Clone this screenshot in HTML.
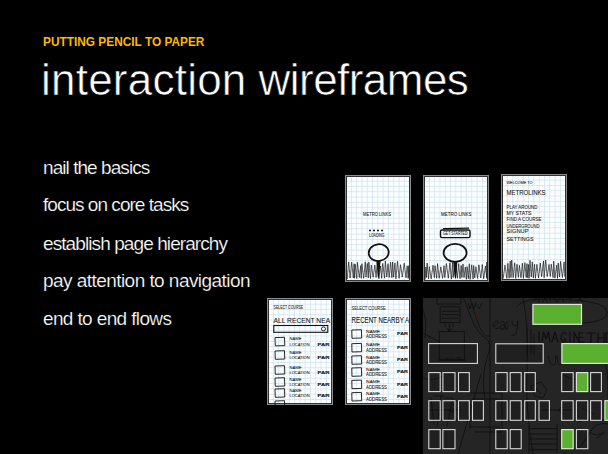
<!DOCTYPE html>
<html><head><meta charset="utf-8">
<style>
html,body{margin:0;padding:0;background:#000;}
body{width:608px;height:454px;position:relative;overflow:hidden;font-family:"Liberation Sans",sans-serif;}
.t{position:absolute;white-space:nowrap;line-height:1;}
#sub{left:42.5px;top:35px;font-size:13px;font-weight:bold;color:#fdb900;transform:scaleX(0.912);transform-origin:0 0;}
#title{left:41px;top:58px;font-size:44px;color:#fff;letter-spacing:-0.17px;-webkit-text-stroke:0.6px #000;}
.b{left:43px;font-size:19px;color:#fff;-webkit-text-stroke:0.2px #000;}
.card{position:absolute;}
#panel{position:absolute;left:423px;top:298px;width:185px;height:156px;background:#2b2b2b;}
</style></head><body>
<div class="t" id="sub">PUTTING PENCIL TO PAPER</div>
<div class="t" id="title"><span style="letter-spacing:0.23px">interaction</span> <span style="letter-spacing:-0.55px">wireframes</span></div>
<div class="t b" style="top:158px;letter-spacing:-0.94px">nail the basics</div>
<div class="t b" style="top:195px;letter-spacing:-0.97px">focus on core tasks</div>
<div class="t b" style="top:234px;letter-spacing:-0.91px">establish page hierarchy</div>
<div class="t b" style="top:271px;letter-spacing:-0.55px">pay attention to navigation</div>
<div class="t b" style="top:309px;letter-spacing:-0.63px">end to end flows</div>
<svg width="0" height="0" style="position:absolute"><defs>
<pattern id="grid" width="5.3" height="5.3" patternUnits="userSpaceOnUse" x="0.6" y="0.4">
<rect width="5.3" height="5.3" fill="#fbfdfe"/>
<path d="M0 0.4H5.3M0.4 0V5.3" stroke="#c4deea" stroke-width="0.6" fill="none"/>
</pattern></defs></svg>
<svg class="card" style="left:345px;top:175px" width="66" height="107" viewBox="0 0 66 107"><rect x="0" y="0" width="66" height="107" fill="#8a8a8a"/><rect x="1" y="1" width="64" height="105" fill="#333"/><rect x="2" y="2" width="62" height="103" fill="url(#grid)"/><text x="18" y="41.20" font-family="Liberation Sans" font-size="5.83" font-weight="normal" fill="#161616" stroke="#161616" stroke-width="0.07" textLength="28" lengthAdjust="spacingAndGlyphs">METRO LINKS</text><path d="M24 55.5h2M28 55.5h2M32 55.5h2M36 55.5h2" stroke="#1a1a1a" stroke-width="1.6"/><text x="24" y="62.30" font-family="Liberation Sans" font-size="4.58" font-weight="normal" fill="#161616" stroke="#161616" stroke-width="0.06" textLength="15.5" lengthAdjust="spacingAndGlyphs">LOADING</text><ellipse cx="33.7" cy="77.6" rx="10" ry="8.4" fill="none" stroke="#111" stroke-width="1.8" transform="rotate(-8 33.7 77.6)"/><path d="M2.2 104.0L3.7 86.9L5.1 103.0L6.7 87.2L8.3 103.0L9.1 88.7L9.6 103.3L10.2 89.2L11.8 103.5L12.4 87.3L14.3 102.5L15.7 90.7L16.2 103.3L16.9 88.7L18.7 103.3L20.3 86.8L21.0 102.1L22.3 88.4L23.3 103.0L23.8 87.0L25.5 103.5L26.3 90.2L28.2 102.2L29.8 90.1L31.1 102.5L32.2 86.7L33.9 103.6L35.6 91.0L36.7 103.3L37.7 88.4L39.6 103.2L40.3 86.1L41.8 102.0L43.0 88.7L44.2 102.5L45.6 87.2L46.9 102.8L47.6 87.0L48.6 102.1L49.9 87.9L50.9 103.8L52.5 86.4L54.1 103.3L55.5 89.7L57.3 102.1L59.2 88.2L61.0 102.8L62.2 90.8L63.2 103.5L63.8 90.7L63.8 102.4" fill="none" stroke="#1a1a1a" stroke-width="0.7" stroke-linejoin="round"/><path d="M31.6 85.5 L35.6 85.5 L34.3 100 L33.2 104 L32.6 100 Z" fill="#111"/></svg>
<svg class="card" style="left:423px;top:175px" width="66" height="107" viewBox="0 0 66 107"><rect x="0" y="0" width="66" height="107" fill="#8a8a8a"/><rect x="1" y="1" width="64" height="105" fill="#333"/><rect x="2" y="2" width="62" height="103" fill="url(#grid)"/><text x="18" y="40.60" font-family="Liberation Sans" font-size="5.28" font-weight="normal" fill="#161616" stroke="#161616" stroke-width="0.07" textLength="30.5" lengthAdjust="spacingAndGlyphs">METRO LINKS</text><rect x="17.5" y="55" width="29.5" height="7.6" rx="1.5" fill="none" stroke="#111" stroke-width="1.4"/><path d="M20 53.6 L46 53.2" stroke="#111" stroke-width="1.2"/><text x="20" y="60.30" font-family="Liberation Sans" font-size="4.58" font-weight="normal" fill="#161616" stroke="#161616" stroke-width="0.06" textLength="24.5" lengthAdjust="spacingAndGlyphs">GET STARTED</text><ellipse cx="32.1" cy="77.9" rx="11.5" ry="9" fill="none" stroke="#111" stroke-width="1.8"/><path d="M2.2 104.5L2.9 92.0L3.4 102.5L4.1 88.0L5.5 103.8L6.3 91.7L8.2 103.9L10.0 90.2L11.4 102.7L12.0 90.7L13.7 103.3L14.5 88.6L16.2 103.3L17.8 91.9L19.6 103.4L21.0 90.7L21.8 102.6L23.4 88.6L25.3 103.2L26.9 87.7L28.4 104.1L29.6 87.3L30.2 102.6L31.4 89.7L32.5 103.2L33.4 91.8L34.4 103.3L35.7 88.6L37.0 103.6L38.2 90.5L38.9 102.5L40.0 88.9L41.0 102.6L42.3 92.0L43.3 104.3L44.1 91.7L45.3 103.8L46.3 88.7L47.1 104.4L48.7 89.8L50.1 104.1L50.7 90.6L51.8 102.8L52.9 91.8L54.6 103.5L55.9 89.8L57.8 103.0L59.3 89.5L60.7 103.8L62.4 91.1L63.7 102.6L63.8 87.1L63.8 103.8" fill="none" stroke="#1a1a1a" stroke-width="0.7" stroke-linejoin="round"/><path d="M30.2 86.5 L34.4 86.5 L33.2 101 L32.3 104 L31.6 101 Z" fill="#111"/></svg>
<svg class="card" style="left:501px;top:174px" width="66" height="107" viewBox="0 0 66 107"><rect x="0" y="0" width="66" height="107" fill="#8a8a8a"/><rect x="1" y="1" width="64" height="105" fill="#333"/><rect x="2" y="2" width="62" height="103" fill="url(#grid)"/><text x="5.5" y="10.30" font-family="Liberation Sans" font-size="3.89" font-weight="normal" fill="#161616" stroke="#161616" stroke-width="0.06" textLength="26" lengthAdjust="spacingAndGlyphs">WELCOME TO</text><text x="5.5" y="20.50" font-family="Liberation Sans" font-size="7.64" font-weight="normal" fill="#161616" stroke="#161616" stroke-width="0.09" textLength="39" lengthAdjust="spacingAndGlyphs">METROLINKS</text><text x="5.5" y="34.60" font-family="Liberation Sans" font-size="5.00" font-weight="normal" fill="#161616" stroke="#161616" stroke-width="0.07" textLength="31" lengthAdjust="spacingAndGlyphs">PLAY AROUND</text><text x="5.5" y="40.60" font-family="Liberation Sans" font-size="5.00" font-weight="normal" fill="#161616" stroke="#161616" stroke-width="0.07" textLength="25" lengthAdjust="spacingAndGlyphs">MY STATS</text><text x="5.5" y="46.60" font-family="Liberation Sans" font-size="5.00" font-weight="normal" fill="#161616" stroke="#161616" stroke-width="0.07" textLength="35" lengthAdjust="spacingAndGlyphs">FIND A COURSE</text><text x="5.5" y="53.60" font-family="Liberation Sans" font-size="5.00" font-weight="normal" fill="#161616" stroke="#161616" stroke-width="0.07" textLength="33" lengthAdjust="spacingAndGlyphs">UNDERGROUND</text><text x="5.5" y="59.10" font-family="Liberation Sans" font-size="5.00" font-weight="normal" fill="#161616" stroke="#161616" stroke-width="0.07" textLength="22" lengthAdjust="spacingAndGlyphs">SIGNUP</text><text x="5.5" y="66.60" font-family="Liberation Sans" font-size="5.00" font-weight="normal" fill="#161616" stroke="#161616" stroke-width="0.07" textLength="27" lengthAdjust="spacingAndGlyphs">SETTINGS</text><path d="M2.2 104.5L4.0 91.1L5.8 104.3L6.9 89.3L8.1 104.2L9.2 87.1L10.0 103.6L10.7 86.1L12.2 103.7L13.7 88.8L14.7 104.4L16.0 90.3L17.4 103.3L18.4 91.4L20.0 103.8L21.4 89.2L22.4 104.3L23.9 88.6L25.2 103.6L26.0 89.6L26.7 103.9L27.5 90.5L28.1 104.3L29.0 86.2L30.3 102.9L31.3 87.8L32.3 103.9L33.5 90.3L34.4 104.3L35.9 90.4L37.5 104.0L39.3 89.0L40.6 102.6L42.5 86.9L43.1 103.7L44.7 86.1L46.2 102.6L48.0 90.5L49.3 102.5L50.3 90.2L52.1 103.7L52.7 87.1L53.9 104.1L55.7 91.2L56.5 104.3L57.2 88.9L58.5 102.9L59.6 87.4L61.4 103.6L63.1 87.9L63.8 102.7" fill="none" stroke="#1a1a1a" stroke-width="0.7" stroke-linejoin="round"/></svg>
<svg class="card" style="left:267px;top:298px" width="66" height="107" viewBox="0 0 66 107"><rect x="0" y="0" width="66" height="107" fill="#8a8a8a"/><rect x="1" y="1" width="64" height="105" fill="#333"/><rect x="2" y="2" width="62" height="103" fill="url(#grid)"/><text x="6.6" y="11.30" font-family="Liberation Sans" font-size="4.58" font-weight="normal" fill="#161616" stroke="#161616" stroke-width="0.06" textLength="29.5" lengthAdjust="spacingAndGlyphs">SELECT COURSE</text><text x="6.6" y="24.80" font-family="Liberation Sans" font-size="8.06" font-weight="normal" fill="#161616" stroke="#161616" stroke-width="0.09" textLength="56.5" lengthAdjust="spacingAndGlyphs">ALL RECENT NEA</text><rect x="6.8" y="27.5" width="54" height="6.8" fill="none" stroke="#111" stroke-width="1.1"/><circle cx="56.5" cy="30.9" r="2" fill="none" stroke="#111" stroke-width="0.9"/><path d="M8 39.6 L17.5 39.3 L17.8 47.6 L8.3 47.9 Z" fill="none" stroke="#111" stroke-width="0.9"/><text x="22.5" y="42.30" font-family="Liberation Sans" font-size="4.17" font-weight="normal" fill="#161616" stroke="#161616" stroke-width="0.06" textLength="12" lengthAdjust="spacingAndGlyphs">NAME</text><text x="22.5" y="47.80" font-family="Liberation Sans" font-size="4.17" font-weight="normal" fill="#161616" stroke="#161616" stroke-width="0.06" textLength="20" lengthAdjust="spacingAndGlyphs">LOCATION</text><text x="50.5" y="47.60" font-family="Liberation Sans" font-size="3.61" font-weight="bold" fill="#161616" stroke="#161616" stroke-width="0.12" textLength="12" lengthAdjust="spacingAndGlyphs">PAR</text><path d="M8 53.0 L17.5 52.7 L17.8 61.0 L8.3 61.3 Z" fill="none" stroke="#111" stroke-width="0.9"/><text x="22.5" y="55.70" font-family="Liberation Sans" font-size="4.17" font-weight="normal" fill="#161616" stroke="#161616" stroke-width="0.06" textLength="12" lengthAdjust="spacingAndGlyphs">NAME</text><text x="22.5" y="61.20" font-family="Liberation Sans" font-size="4.17" font-weight="normal" fill="#161616" stroke="#161616" stroke-width="0.06" textLength="20" lengthAdjust="spacingAndGlyphs">LOCATION</text><text x="50.5" y="61.00" font-family="Liberation Sans" font-size="3.61" font-weight="bold" fill="#161616" stroke="#161616" stroke-width="0.12" textLength="12" lengthAdjust="spacingAndGlyphs">PAR</text><path d="M8 68.0 L17.5 67.7 L17.8 76.0 L8.3 76.3 Z" fill="none" stroke="#111" stroke-width="0.9"/><text x="22.5" y="70.70" font-family="Liberation Sans" font-size="4.17" font-weight="normal" fill="#161616" stroke="#161616" stroke-width="0.06" textLength="12" lengthAdjust="spacingAndGlyphs">NAME</text><text x="22.5" y="76.20" font-family="Liberation Sans" font-size="4.17" font-weight="normal" fill="#161616" stroke="#161616" stroke-width="0.06" textLength="20" lengthAdjust="spacingAndGlyphs">LOCATION</text><text x="50.5" y="76.00" font-family="Liberation Sans" font-size="3.61" font-weight="bold" fill="#161616" stroke="#161616" stroke-width="0.12" textLength="12" lengthAdjust="spacingAndGlyphs">PAR</text><path d="M8 80.0 L17.5 79.7 L17.8 88.0 L8.3 88.3 Z" fill="none" stroke="#111" stroke-width="0.9"/><text x="22.5" y="82.70" font-family="Liberation Sans" font-size="4.17" font-weight="normal" fill="#161616" stroke="#161616" stroke-width="0.06" textLength="12" lengthAdjust="spacingAndGlyphs">NAME</text><text x="22.5" y="88.20" font-family="Liberation Sans" font-size="4.17" font-weight="normal" fill="#161616" stroke="#161616" stroke-width="0.06" textLength="20" lengthAdjust="spacingAndGlyphs">LOCATION</text><text x="50.5" y="88.00" font-family="Liberation Sans" font-size="3.61" font-weight="bold" fill="#161616" stroke="#161616" stroke-width="0.12" textLength="12" lengthAdjust="spacingAndGlyphs">PAR</text><path d="M8 91.0 L17.5 90.7 L17.8 99.0 L8.3 99.3 Z" fill="none" stroke="#111" stroke-width="0.9"/><text x="22.5" y="93.70" font-family="Liberation Sans" font-size="4.17" font-weight="normal" fill="#161616" stroke="#161616" stroke-width="0.06" textLength="12" lengthAdjust="spacingAndGlyphs">NAME</text><text x="22.5" y="99.20" font-family="Liberation Sans" font-size="4.17" font-weight="normal" fill="#161616" stroke="#161616" stroke-width="0.06" textLength="20" lengthAdjust="spacingAndGlyphs">LOCATION</text><text x="50.5" y="99.00" font-family="Liberation Sans" font-size="3.61" font-weight="bold" fill="#161616" stroke="#161616" stroke-width="0.12" textLength="12" lengthAdjust="spacingAndGlyphs">PAR</text><path d="M8 103.0 L17.5 102.7 L17.8 111.0 L8.3 111.3 Z" fill="none" stroke="#111" stroke-width="0.9"/></svg>
<svg class="card" style="left:345px;top:298px" width="66" height="107" viewBox="0 0 66 107"><rect x="0" y="0" width="66" height="107" fill="#8a8a8a"/><rect x="1" y="1" width="64" height="105" fill="#333"/><rect x="2" y="2" width="62" height="103" fill="url(#grid)"/><text x="6.6" y="11.60" font-family="Liberation Sans" font-size="5.00" font-weight="normal" fill="#161616" stroke="#161616" stroke-width="0.06" textLength="34" lengthAdjust="spacingAndGlyphs">SELECT COURSE</text><text x="6.6" y="25.00" font-family="Liberation Sans" font-size="8.33" font-weight="normal" fill="#161616" stroke="#161616" stroke-width="0.09" textLength="57.5" lengthAdjust="spacingAndGlyphs">RECENT NEARBY A</text><path d="M6.8 32.0 L16.4 31.7 L16.7 40.0 L7 40.3 Z" fill="none" stroke="#111" stroke-width="0.9"/><text x="21" y="34.70" font-family="Liberation Sans" font-size="4.17" font-weight="normal" fill="#161616" stroke="#161616" stroke-width="0.06" textLength="14" lengthAdjust="spacingAndGlyphs">NAME</text><text x="21" y="40.20" font-family="Liberation Sans" font-size="4.44" font-weight="normal" fill="#161616" stroke="#161616" stroke-width="0.06" textLength="21" lengthAdjust="spacingAndGlyphs">ADDRESS</text><text x="52" y="37.30" font-family="Liberation Sans" font-size="3.89" font-weight="bold" fill="#161616" stroke="#161616" stroke-width="0.12" textLength="11" lengthAdjust="spacingAndGlyphs">PAR</text><path d="M6.8 45.7 L16.4 45.4 L16.7 53.7 L7 54.0 Z" fill="none" stroke="#111" stroke-width="0.9"/><text x="21" y="48.40" font-family="Liberation Sans" font-size="4.17" font-weight="normal" fill="#161616" stroke="#161616" stroke-width="0.06" textLength="14" lengthAdjust="spacingAndGlyphs">NAME</text><text x="21" y="53.90" font-family="Liberation Sans" font-size="4.44" font-weight="normal" fill="#161616" stroke="#161616" stroke-width="0.06" textLength="21" lengthAdjust="spacingAndGlyphs">ADDRESS</text><text x="52" y="51.00" font-family="Liberation Sans" font-size="3.89" font-weight="bold" fill="#161616" stroke="#161616" stroke-width="0.12" textLength="11" lengthAdjust="spacingAndGlyphs">PAR</text><path d="M6.8 58.0 L16.4 57.7 L16.7 66.0 L7 66.3 Z" fill="none" stroke="#111" stroke-width="0.9"/><text x="21" y="60.70" font-family="Liberation Sans" font-size="4.17" font-weight="normal" fill="#161616" stroke="#161616" stroke-width="0.06" textLength="14" lengthAdjust="spacingAndGlyphs">NAME</text><text x="21" y="66.20" font-family="Liberation Sans" font-size="4.44" font-weight="normal" fill="#161616" stroke="#161616" stroke-width="0.06" textLength="21" lengthAdjust="spacingAndGlyphs">ADDRESS</text><text x="52" y="63.30" font-family="Liberation Sans" font-size="3.89" font-weight="bold" fill="#161616" stroke="#161616" stroke-width="0.12" textLength="11" lengthAdjust="spacingAndGlyphs">PAR</text><path d="M6.8 70.0 L16.4 69.7 L16.7 78.0 L7 78.3 Z" fill="none" stroke="#111" stroke-width="0.9"/><text x="21" y="72.70" font-family="Liberation Sans" font-size="4.17" font-weight="normal" fill="#161616" stroke="#161616" stroke-width="0.06" textLength="14" lengthAdjust="spacingAndGlyphs">NAME</text><text x="21" y="78.20" font-family="Liberation Sans" font-size="4.44" font-weight="normal" fill="#161616" stroke="#161616" stroke-width="0.06" textLength="21" lengthAdjust="spacingAndGlyphs">ADDRESS</text><text x="52" y="75.30" font-family="Liberation Sans" font-size="3.89" font-weight="bold" fill="#161616" stroke="#161616" stroke-width="0.12" textLength="11" lengthAdjust="spacingAndGlyphs">PAR</text><path d="M6.8 82.4 L16.4 82.1 L16.7 90.4 L7 90.7 Z" fill="none" stroke="#111" stroke-width="0.9"/><text x="21" y="85.10" font-family="Liberation Sans" font-size="4.17" font-weight="normal" fill="#161616" stroke="#161616" stroke-width="0.06" textLength="14" lengthAdjust="spacingAndGlyphs">NAME</text><text x="21" y="90.60" font-family="Liberation Sans" font-size="4.44" font-weight="normal" fill="#161616" stroke="#161616" stroke-width="0.06" textLength="21" lengthAdjust="spacingAndGlyphs">ADDRESS</text><text x="52" y="87.70" font-family="Liberation Sans" font-size="3.89" font-weight="bold" fill="#161616" stroke="#161616" stroke-width="0.12" textLength="11" lengthAdjust="spacingAndGlyphs">PAR</text><path d="M6.8 94.7 L16.4 94.4 L16.7 102.7 L7 103.0 Z" fill="none" stroke="#111" stroke-width="0.9"/><text x="21" y="97.40" font-family="Liberation Sans" font-size="4.17" font-weight="normal" fill="#161616" stroke="#161616" stroke-width="0.06" textLength="14" lengthAdjust="spacingAndGlyphs">NAME</text><text x="21" y="102.90" font-family="Liberation Sans" font-size="4.44" font-weight="normal" fill="#161616" stroke="#161616" stroke-width="0.06" textLength="21" lengthAdjust="spacingAndGlyphs">ADDRESS</text><text x="52" y="100.00" font-family="Liberation Sans" font-size="3.89" font-weight="bold" fill="#161616" stroke="#161616" stroke-width="0.12" textLength="11" lengthAdjust="spacingAndGlyphs">PAR</text></svg>

<svg id="panel" width="185" height="156" viewBox="0 0 185 156">
<rect width="185" height="156" fill="#252525"/>
<rect x="5.6" y="45.6" width="48.8" height="19.8" fill="rgba(0,0,0,0.12)"/><rect x="72.8" y="45.8" width="47.4" height="19.4" fill="rgba(0,0,0,0.12)"/><rect x="5.8" y="74.6" width="11.4" height="19.0" fill="rgba(0,0,0,0.12)"/><rect x="19.9" y="74.6" width="12.1" height="19.0" fill="rgba(0,0,0,0.12)"/><rect x="35.5" y="74.6" width="10.8" height="19.0" fill="rgba(0,0,0,0.12)"/><rect x="5.8" y="102.7" width="11.4" height="19.6" fill="rgba(0,0,0,0.12)"/><rect x="19.9" y="102.7" width="12.1" height="19.6" fill="rgba(0,0,0,0.12)"/><rect x="35.5" y="102.7" width="10.8" height="19.6" fill="rgba(0,0,0,0.12)"/><rect x="49.5" y="102.7" width="10.9" height="19.6" fill="rgba(0,0,0,0.12)"/><rect x="5.8" y="131.6" width="11.4" height="19.1" fill="rgba(0,0,0,0.12)"/><rect x="19.9" y="131.6" width="12.1" height="19.1" fill="rgba(0,0,0,0.12)"/><rect x="72.8" y="74.6" width="11.4" height="19.0" fill="rgba(0,0,0,0.12)"/><rect x="87.2" y="74.6" width="11.0" height="19.0" fill="rgba(0,0,0,0.12)"/><rect x="101.7" y="74.6" width="10.6" height="19.0" fill="rgba(0,0,0,0.12)"/><rect x="72.8" y="102.7" width="11.4" height="19.6" fill="rgba(0,0,0,0.12)"/><rect x="87.2" y="102.7" width="11.0" height="19.6" fill="rgba(0,0,0,0.12)"/><rect x="101.7" y="102.7" width="10.6" height="19.6" fill="rgba(0,0,0,0.12)"/><rect x="116.0" y="102.7" width="10.4" height="19.6" fill="rgba(0,0,0,0.12)"/><rect x="72.8" y="131.6" width="11.4" height="19.1" fill="rgba(0,0,0,0.12)"/><rect x="87.2" y="131.6" width="11.0" height="19.1" fill="rgba(0,0,0,0.12)"/><rect x="138.7" y="74.6" width="11.5" height="19.0" fill="rgba(0,0,0,0.12)"/><rect x="167.6" y="74.6" width="10.8" height="19.0" fill="rgba(0,0,0,0.12)"/><rect x="138.7" y="102.7" width="11.5" height="19.6" fill="rgba(0,0,0,0.12)"/><rect x="153.4" y="102.7" width="11.4" height="19.6" fill="rgba(0,0,0,0.12)"/><rect x="167.6" y="102.7" width="10.8" height="19.6" fill="rgba(0,0,0,0.12)"/><rect x="153.4" y="131.6" width="11.4" height="19.1" fill="rgba(0,0,0,0.12)"/>
<g fill="none" stroke="#0f0f0f" stroke-width="0.85" stroke-linecap="round" stroke-linejoin="round">
<path d="M14 0v6h24v-6 M17.6 8.8h19.4v15.8h-19.4z M19 13.2h17 M19 16.7h17 M19 20.2h16 M22 24.6v4 M30 24.6v4"/>
<path d="M26.4 26v7 M24 30.5l2.4 2.6l2.6-2.6"/>
<path d="M16.7 33.5h24.7v29h-24.7z M16 61.6h26 M22 61.6l3 -1.5 M28 60l2 2 M34 60h4"/>
<path d="M0 35 L16.7 44 M0 12 Q4 20 2 40"/>
<path d="M40.5 0 Q46 14 51 26.4 Q56 36 63.4 40.5 Q70 45 64 60 Q58 80 62 100"/>
<path d="M47 0 Q52 18 57 30 Q62 40 66 38"/>
<path d="M45 5l2 6l2-6l2 6l2-6 M53 7l3 4l3-6"/>
<path d="M67 0 V156"/>
<path d="M70 28 q1 -6 5 -5 q2 2 -4 5 q0 4 5 2 M77 25 q3 -3 5 0 l-1 6 q-4 1 -4 -2 q1 -3 5 -2 l1 3 M85 23 q-3 1 -1 3 q3 2 0 5 q-1 1 -2 0 M89 23 q0 6 4 5 q2 -2 2 -5 q0 8 -2 12 q-1 3 -4 2"/>
<path d="M100 0 Q106 30 104 70 Q102 110 110 156"/>
<path d="M104 30 v28 M108 32 v24 M111 36 v20"/>
<path d="M111 2 l3 -2 M116 4 v-4 M120 4 l2 -4 l2 4 M127 4 v-4 M131 0 l3 4 l3 -4 M140 4 v-4 M144 0 h6 M147 0 v4 M154 4 l3 -4 l3 4"/>
<path d="M94 8 Q100 0 130 1 Q175 2 182 10 Q190 20 170 24 Q140 28 110 26"/>
<path stroke-width="1.2" d="M116 34 v10 M119 44 l1.5 -10 l2.5 7 l2.5 -7 l1.5 10 M129 44 l3 -10 l3 10 M130.5 40h3 M143 36 q-4 -3 -5 2 q0 6 4 6 l1 -3 h-2 M147 34 v10 M151 44 v-10 l5 10 v-10 M161 35 h-5 v9 h5 M156 39.5 h4 M164 35 h8 M168 35 v10 M175 35 v10 M181 35 v10 M175 40 h6 M188 35 h-5 v9 h5"/>
<path d="M125.5 58 q1 9 5 9 q3 0 2 -9 M134 58 q0 9 4 9 q3 -1 2 -9"/>
<path d="M180 60 Q186 70 185 100"/>
<path d="M58 76 L35 156"/>
<path d="M47.5 95 h31 M49 101 h28 M47 129 h30 M52 134 h26 M79 95 v39 M47 106 v24"/>
<path d="M8 100 l3 26 M12 98 h8 M18 98 l-4 30 M22 100 h8 l-6 28 M28 106 q6 0 4 6 q-2 4 -6 0 M8 112 h30 M9 122 h28"/>
<path d="M106 130.6 h28 M106 136 h28 M106 141 h28 M106 146 h28 M106 151.7 h28 M106 128 v26 M134 126 v28"/>
<path d="M108 88 l10 -4 l6 8 l-4 8 l-8 -2 z M113 90 l5 6"/>
<path d="M120 112 h30 M140 108 l-5 4 l5 4"/>
<path d="M155 124 q10 -4 30 -2 M156 150 q8 -10 14 -20 q6 -6 15 -4 M168 135 q6 4 12 0 M174 140 l8 -6 M160 110 l10 6"/>
<path d="M0 80 q10 4 20 -2 M140 75 q6 8 14 6"/>
</g>
<g fill="none" stroke="#3e1c16" stroke-width="1"><path d="M51 17 l4 3 l-2 3 M55 16 l2 5"/></g>

<rect x="109.9" y="6.4" width="48.6" height="19.9" fill="#5cb02f" stroke="#dce6d6" stroke-width="1.2"/><rect x="5.6" y="45.6" width="48.8" height="19.8" fill="none" stroke="#d8d8d8" stroke-width="1.1"/><rect x="72.8" y="45.8" width="47.4" height="19.4" fill="none" stroke="#d8d8d8" stroke-width="1.1"/><rect x="138.9" y="45.6" width="49.5" height="19.8" fill="#5cb02f" stroke="#dce6d6" stroke-width="1.2"/><rect x="5.8" y="74.6" width="11.4" height="19.0" fill="none" stroke="#d8d8d8" stroke-width="1.1"/><rect x="19.9" y="74.6" width="12.1" height="19.0" fill="none" stroke="#d8d8d8" stroke-width="1.1"/><rect x="35.5" y="74.6" width="10.8" height="19.0" fill="none" stroke="#d8d8d8" stroke-width="1.1"/><rect x="5.8" y="102.7" width="11.4" height="19.6" fill="none" stroke="#d8d8d8" stroke-width="1.1"/><rect x="19.9" y="102.7" width="12.1" height="19.6" fill="none" stroke="#d8d8d8" stroke-width="1.1"/><rect x="35.5" y="102.7" width="10.8" height="19.6" fill="none" stroke="#d8d8d8" stroke-width="1.1"/><rect x="49.5" y="102.7" width="10.9" height="19.6" fill="none" stroke="#d8d8d8" stroke-width="1.1"/><rect x="5.8" y="131.6" width="11.4" height="19.1" fill="none" stroke="#d8d8d8" stroke-width="1.1"/><rect x="19.9" y="131.6" width="12.1" height="19.1" fill="none" stroke="#d8d8d8" stroke-width="1.1"/><rect x="72.8" y="74.6" width="11.4" height="19.0" fill="none" stroke="#d8d8d8" stroke-width="1.1"/><rect x="87.2" y="74.6" width="11.0" height="19.0" fill="none" stroke="#d8d8d8" stroke-width="1.1"/><rect x="101.7" y="74.6" width="10.6" height="19.0" fill="none" stroke="#d8d8d8" stroke-width="1.1"/><rect x="72.8" y="102.7" width="11.4" height="19.6" fill="none" stroke="#d8d8d8" stroke-width="1.1"/><rect x="87.2" y="102.7" width="11.0" height="19.6" fill="none" stroke="#d8d8d8" stroke-width="1.1"/><rect x="101.7" y="102.7" width="10.6" height="19.6" fill="none" stroke="#d8d8d8" stroke-width="1.1"/><rect x="116.0" y="102.7" width="10.4" height="19.6" fill="none" stroke="#d8d8d8" stroke-width="1.1"/><rect x="72.8" y="131.6" width="11.4" height="19.1" fill="none" stroke="#d8d8d8" stroke-width="1.1"/><rect x="87.2" y="131.6" width="11.0" height="19.1" fill="none" stroke="#d8d8d8" stroke-width="1.1"/><rect x="138.7" y="74.6" width="11.5" height="19.0" fill="none" stroke="#d8d8d8" stroke-width="1.1"/><rect x="153.4" y="74.6" width="11.4" height="19.0" fill="#5cb02f" stroke="#dce6d6" stroke-width="1.2"/><rect x="167.6" y="74.6" width="10.8" height="19.0" fill="none" stroke="#d8d8d8" stroke-width="1.1"/><rect x="138.7" y="102.7" width="11.5" height="19.6" fill="none" stroke="#d8d8d8" stroke-width="1.1"/><rect x="153.4" y="102.7" width="11.4" height="19.6" fill="none" stroke="#d8d8d8" stroke-width="1.1"/><rect x="167.6" y="102.7" width="10.8" height="19.6" fill="none" stroke="#d8d8d8" stroke-width="1.1"/><rect x="181.9" y="102.7" width="11.3" height="19.6" fill="#5cb02f" stroke="#dce6d6" stroke-width="1.2"/><rect x="138.7" y="131.6" width="11.5" height="19.1" fill="#5cb02f" stroke="#dce6d6" stroke-width="1.2"/><rect x="153.4" y="131.6" width="11.4" height="19.1" fill="none" stroke="#d8d8d8" stroke-width="1.1"/>
</svg>
</body></html>
